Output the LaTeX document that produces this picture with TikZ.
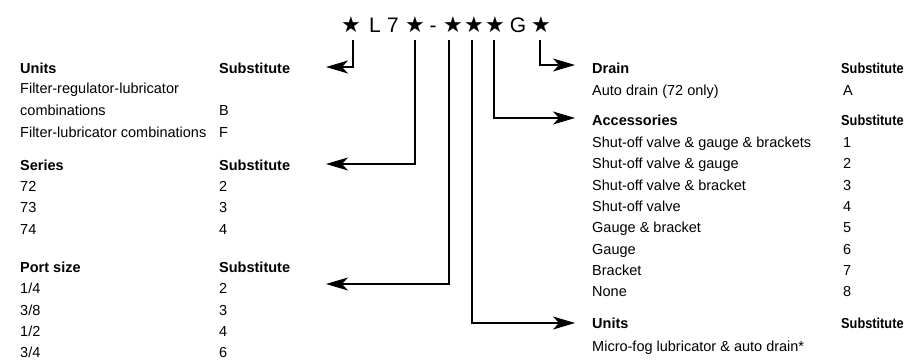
\documentclass[tikz,border=0pt]{standalone}
\usepackage{fontspec}
\setmainfont{Liberation Sans}
\newfontfamily\symf{DejaVu Sans}
\usetikzlibrary{arrows.meta}
\begin{document}
\begin{tikzpicture}[x=1pt,y=-1pt,
  txt/.style={anchor=base west, inner sep=0pt, font=\fontsize{14.5}{16}\selectfont},
  hd/.style={anchor=base west, inner sep=0pt, font=\fontsize{14.5}{16}\selectfont\bfseries},
  code/.style={anchor=base, inner sep=0pt, font=\fontsize{21}{24}\selectfont},
  star/.style={anchor=base, inner sep=0pt, font=\symf\fontsize{22}{24}\selectfont},
  link/.style={line width=1.1pt},
  arr/.style={link, -{Stealth[length=22pt,width=13pt,inset=6pt]}}]
\useasboundingbox (0,0) rectangle (904,359);

% model code
\node[star] (s1) at (351,32) {★};
\node[code] (cL) at (375,32) {L};
\node[code] (c7) at (393,32) {7};
\node[star] (s2) at (415,32) {★};
\node[code] (cd) at (433,32) {-};
\node[star] (s3) at (453,32) {★};
\node[star] (s4) at (474,32) {★};
\node[star] (s5) at (495,32) {★};
\node[code] (cG) at (518,32) {G};
\node[star] (s6) at (541,32) {★};
\coordinate (top) at (0,40);

% left column
\node[hd]  (hU)  at (20,73)  {Units};
\node[hd]  (sU)  at (219,73) {Substitute};
\node[txt] (u1)  at (20,93.5) {Filter-regulator-lubricator};
\node[txt] (u2)  at (20,115) {combinations};
\node[txt] (u2s) at (219,115) {B};
\node[txt] (u3)  at (20,137) {Filter-lubricator combinations};
\node[txt] (u3s) at (219,137) {F};

\node[hd]  (hS)  at (20,170)  {Series};
\node[hd]  (sS)  at (219,170) {Substitute};
\node[txt] (r1)  at (20,191) {72};   \node[txt] (r1s) at (219,191) {2};
\node[txt] (r2)  at (20,212.5) {73}; \node[txt] (r2s) at (219,212.5) {3};
\node[txt] (r3)  at (20,234) {74};   \node[txt] (r3s) at (219,234) {4};

\node[hd]  (hP)  at (20,272)  {Port size};
\node[hd]  (sP)  at (219,272) {Substitute};
\node[txt] (p1)  at (20,293.5) {1/4}; \node[txt] (p1s) at (219,293.5) {2};
\node[txt] (p2)  at (20,315) {3/8};   \node[txt] (p2s) at (219,315) {3};
\node[txt] (p3)  at (20,336) {1/2};   \node[txt] (p3s) at (219,336) {4};
\node[txt] (p4)  at (20,357) {3/4};   \node[txt] (p4s) at (219,357) {6};

% right column
\node[hd]  (hD)  at (592,73)  {Drain};
\node[hd]  (sD)  at (841,73) {\scalebox{0.88}[1]{Substitute}};
\node[txt] (d1)  at (592,95) {Auto drain (72 only)};
\node[txt] (d1s) at (843,95) {A};

\node[hd]  (hA)  at (592,125)  {Accessories};
\node[hd]  (sA)  at (841,125) {\scalebox{0.88}[1]{Substitute}};
\node[txt] (a1) at (592,147.5) {Shut-off valve \& gauge \& brackets}; \node[txt] (a1s) at (843,147.5) {1};
\node[txt] (a2) at (592,168.8) {Shut-off valve \& gauge};              \node[txt] (a2s) at (843,168.8) {2};
\node[txt] (a3) at (592,190.1) {Shut-off valve \& bracket};          \node[txt] (a3s) at (843,190.1) {3};
\node[txt] (a4) at (592,211.4) {Shut-off valve};                       \node[txt] (a4s) at (843,211.4) {4};
\node[txt] (a5) at (592,232.7) {Gauge \& bracket};                   \node[txt] (a5s) at (843,232.7) {5};
\node[txt] (a6) at (592,254) {Gauge};                                \node[txt] (a6s) at (843,254) {6};
\node[txt] (a7) at (592,275.3) {Bracket};                            \node[txt] (a7s) at (843,275.3) {7};
\node[txt] (a8) at (592,296.6) {None};                                 \node[txt] (a8s) at (843,296.6) {8};

\node[hd]  (hV)  at (592,328)  {Units};
\node[hd]  (sV)  at (841,328) {\scalebox{0.88}[1]{Substitute}};
\node[txt] (v1)  at (592,351) {Micro-fog lubricator \& auto drain*};

% arrow tips
\coordinate (tU) at (326,67);
\coordinate (tS) at (326,164);
\coordinate (tP) at (326,284);
\coordinate (tD) at (575,65);
\coordinate (tA) at (575,118);
\coordinate (tV) at (575,323);

\draw[arr] ([xshift=2pt]s1 |- top) |- (tU);
\draw[arr] (s2 |- top) |- (tS);
\draw[arr] ([xshift=-4pt]s3 |- top) |- (tP);
\draw[arr] ([xshift=-2pt]s4 |- top) |- (tV);
\draw[arr] ([xshift=-1pt]s5 |- top) |- (tA);
\draw[arr] ([xshift=-1pt]s6 |- top) |- (tD);
\end{tikzpicture}
\end{document}
